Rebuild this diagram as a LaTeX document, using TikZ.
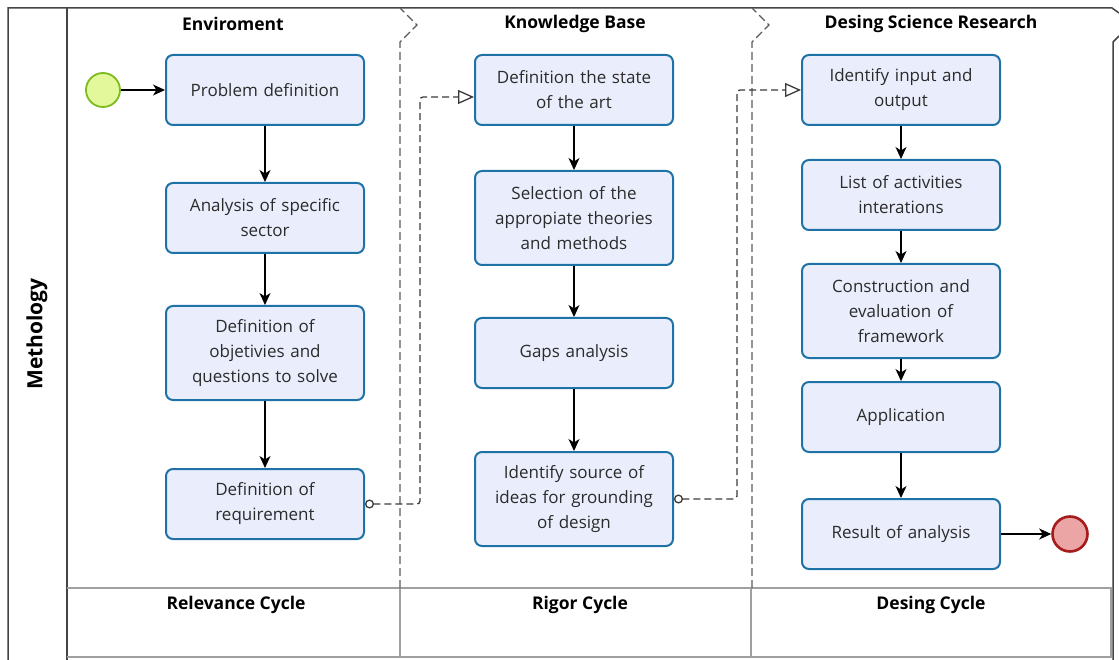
\documentclass[tikz,border=0pt]{standalone}
\usepackage{fontspec}
\setmainfont{Open Sans}
\usetikzlibrary{arrows.meta}
\definecolor{nodefill}{HTML}{EAEEFC}
\definecolor{nodeborder}{HTML}{1F72A6}
\definecolor{txt}{HTML}{2B2B2B}
\definecolor{startfill}{HTML}{E2F89A}
\definecolor{startline}{HTML}{7DBB1E}
\definecolor{endfill}{HTML}{EBA5A5}
\definecolor{endline}{HTML}{A51C1C}
\definecolor{frame}{HTML}{444444}
\definecolor{msgc}{HTML}{3A3A3A}
\definecolor{sep}{HTML}{5A5A5A}
\definecolor{grid}{HTML}{A0A0A0}
\begin{document}
\begin{tikzpicture}[x=1pt,y=-1pt,
  task/.style={draw=nodeborder, fill=nodefill, line width=2pt, rounded corners=7pt,
    minimum width=198pt, minimum height=70pt, text width=190pt, align=center,
    font=\fontsize{17}{25}\selectfont, text=txt, inner sep=0pt},
  tall/.style={minimum height=94pt},
  flow/.style={draw=black, line width=1.1pt, -{Stealth[length=12pt,width=11pt,inset=3.5pt]}},
  msg/.style={draw=msgc, line width=1.3pt, dash pattern=on 7pt off 4pt, rounded corners=3pt,
    {Circle[open,length=9pt,width=9pt]}-{Triangle[open,length=16pt,width=14pt]}},
  lanesep/.style={draw=sep, line width=1.2pt, dash pattern=on 8pt off 4pt},
  head/.style={font=\fontsize{17.5}{20}\selectfont\bfseries, text=black},
  pool/.style={draw=frame, line width=1.5pt},
  gridline/.style={draw=grid, line width=1.1pt}
]
\useasboundingbox (0,0) rectangle (1119,660);

% pool frame
\draw[pool] (8,660) -- (8,8) -- (1112,8) -- (1119,13);
\draw[pool] (67,8) -- (67,660);
\draw[pool] (1119,36) -- (1113,42) -- (1113,660);
% bottom row
\draw[gridline] (67,588) -- (1112,588);
\draw[gridline] (67,657) -- (1112,657);
\draw[gridline] (400,588) -- (400,657);
\draw[gridline] (751,588) -- (751,657);
\draw[gridline] (1111,588) -- (1111,657);
% lane separators
\draw[lanesep] (400,588) -- (400,42) -- (417,25) -- (400,8);
\draw[lanesep] (752,588) -- (752,42) -- (769,25) -- (752,8);

% labels
\node[font=\fontsize{21}{24}\selectfont\bfseries, rotate=90] (pl) at (37,334) {Methology};
\node[head] (h1) at (233,24) {Enviroment};
\node[head] (h2) at (575,24) {Knowledge Base};
\node[head] (h3) at (931,24) {Desing Science Research};
\node[head] (b1) at (236,605) {Relevance Cycle};
\node[head] (b2) at (580,605) {Rigor Cycle};
\node[head] (b3) at (931,605) {Desing Cycle};

% events
\node[circle, draw=startline, fill=startfill, line width=1.8pt, minimum size=34pt, inner sep=0pt] (start) at (103,90) {};
\node[circle, draw=endline, fill=endfill, line width=2.6pt, minimum size=35pt, inner sep=0pt] (end) at (1070,534) {};

% column 1
\node[task] (p1) at (265,90) {Problem definition};
\node[task] (p2) at (265,218) {Analysis of specific\\sector};
\node[task, tall] (p3) at (265,353) {Definition of\\objetivies and\\questions to solve};
\node[task] (p4) at (265,504) {Definition of\\requirement};
% column 2
\node[task] (k1) at (574,90) {Definition the state\\of the art};
\node[task, tall] (k2) at (574,218) {Selection of the\\appropiate theories\\and methods};
\node[task] (k3) at (574,353) {Gaps analysis};
\node[task, tall] (k4) at (574,499) {Identify source of\\ideas for grounding\\of design};
% column 3
\node[task] (d1) at (901,90) {Identify input and\\output};
\node[task] (d2) at (901,195) {List of activities\\interations};
\node[task, tall] (d3) at (901,311) {Construction and\\evaluation of\\framework};
\node[task] (d4) at (901,417) {Application};
\node[task] (d5) at (901,534) {Result of analysis};

% sequence flows
\draw[flow] (start) -- (p1);
\draw[flow] (p1) -- (p2);
\draw[flow] (p2) -- (p3);
\draw[flow] (p3) -- (p4);
\draw[flow] (k1) -- (k2);
\draw[flow] (k2) -- (k3);
\draw[flow] (k3) -- (k4);
\draw[flow] (d1) -- (d2);
\draw[flow] (d2) -- (d3);
\draw[flow] (d3) -- (d4);
\draw[flow] (d4) -- (d5);
\draw[flow] (d5) -- (end);

% message flows
\coordinate (m1) at (420,97);
\coordinate (m2) at (737,90);
\draw[msg] (p4.east) -| (m1) -- (m1 -| k1.west);
\draw[msg] (k4.east) -| (m2) -- (d1.west);
\end{tikzpicture}
\end{document}
